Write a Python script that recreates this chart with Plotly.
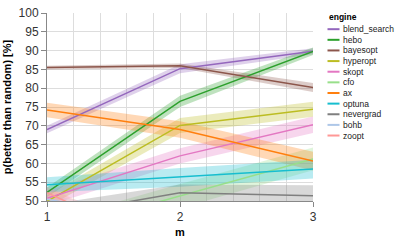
import plotly.graph_objects as go

# ---------------- data ----------------
m_values = [1, 2, 3]
engines = ["blend_search", "hebo", "bayesopt", "hyperopt", "skopt", "cfo",
           "ax", "optuna", "nevergrad", "bohb", "zoopt"]
colors = ["#9467bd", "#2ca02c", "#8c564b", "#bcbd22", "#e377c2", "#98df8a",
          "#ff7f0e", "#17becf", "#7f7f7f", "#aec7e8", "#ff9896"]

# mean p(better than random) [%] at m = 1, 2, 3
blend_search = [69.0, 85.2, 89.8]
hebo = [52.3, 76.5, 89.8]
bayesopt = [85.5, 86.0, 80.2]
hyperopt = [49.9, 70.1, 74.4]
skopt = [50.7, 62.0, 70.3]
cfo = [41.5, 51.3, 61.2]
ax = [74.2, 69.0, 60.6]
optuna = [54.3, 56.3, 58.5]
nevergrad = [46.0, 52.2, 51.4]
bohb = [50.5, 44.0, 43.0]
zoopt = [52.2, 36.0, 35.0]

# half-width of confidence band
blend_search_ci = [1.0, 1.2, 0.8]
hebo_ci = [1.3, 1.5, 1.0]
bayesopt_ci = [0.5, 0.6, 1.2]
hyperopt_ci = [1.6, 2.0, 2.0]
skopt_ci = [2.0, 2.0, 2.2]
cfo_ci = [3.0, 3.2, 3.0]
ax_ci = [1.9, 2.2, 2.5]
optuna_ci = [2.0, 2.5, 2.5]
nevergrad_ci = [3.0, 2.2, 2.8]
bohb_ci = [1.0, 2.0, 2.0]
zoopt_ci = [1.5, 2.0, 2.0]

means = [blend_search, hebo, bayesopt, hyperopt, skopt, cfo, ax, optuna,
         nevergrad, bohb, zoopt]
cis = [blend_search_ci, hebo_ci, bayesopt_ci, hyperopt_ci, skopt_ci, cfo_ci,
       ax_ci, optuna_ci, nevergrad_ci, bohb_ci, zoopt_ci]


def rgba(hex_color, a):
    h = hex_color.lstrip("#")
    r, g, b = int(h[0:2], 16), int(h[2:4], 16), int(h[4:6], 16)
    return f"rgba({r},{g},{b},{a})"


fig = go.Figure()

# bands
for name, col, mu, ci in zip(engines, colors, means, cis):
    upper = [v + c for v, c in zip(mu, ci)]
    lower = [v - c for v, c in zip(mu, ci)]
    fig.add_trace(go.Scatter(
        x=m_values + m_values[::-1],
        y=upper + lower[::-1],
        fill="toself", fillcolor=rgba(col, 0.3),
        line=dict(width=0), mode="lines", hoverinfo="skip",
        showlegend=False, name=name))

# lines
for name, col, mu in zip(engines, colors, means):
    fig.add_trace(go.Scatter(
        x=m_values, y=mu, mode="lines", name=name,
        line=dict(color=col, width=1.5), showlegend=False))

# ---------------- layout ----------------
W, H = 395, 242
L, R, T, B = 47, 82, 6, 35
pw, ph = W - L - R, H - T - B


def px_x(p):
    return (p - L) / pw


def px_y(p):
    return (H - B - p) / ph


font_family = "Liberation Sans, Arial, sans-serif"

# manual compact legend (title + entries)
annotations = [dict(
    x=px_x(327), y=px_y(10), xref="paper", yref="paper",
    text="engine", showarrow=False, xanchor="left", yanchor="middle",
    font=dict(family=font_family, size=8.5, color="#000", weight="bold"))]
shapes = []
for i, (name, col) in enumerate(zip(engines, colors)):
    yy = 23.3 + i * 11.37
    shapes.append(dict(type="line", xref="paper", yref="paper",
                       x0=px_x(327.5), x1=px_x(339.5),
                       y0=px_y(yy), y1=px_y(yy),
                       line=dict(color=col, width=2)))
    annotations.append(dict(
        x=px_x(340.5), y=px_y(yy), xref="paper", yref="paper",
        text=name, showarrow=False, xanchor="left", yanchor="middle",
        font=dict(family=font_family, size=8.5, color="#222")))

fig.update_layout(
    width=W, height=H,
    margin=dict(l=L, r=R, t=T, b=B, pad=0),
    paper_bgcolor="white", plot_bgcolor="white",
    showlegend=False,
    font=dict(family=font_family, color="#333"),
    annotations=annotations, shapes=shapes,
    xaxis=dict(
        range=[1, 3], dtick=1, tick0=1,
        showgrid=True, gridcolor="#ddd", gridwidth=1,
        minor=dict(dtick=0.2, showgrid=True, gridcolor="#ddd", gridwidth=1),
        showline=True, linecolor="#888", linewidth=1,
        ticks="outside", ticklen=5, tickcolor="#888",
        tickfont=dict(size=12, color="#333"),
        ticklabeloverflow="allow",
        zeroline=False,
        title=dict(text="m", standoff=4,
                   font=dict(size=11, color="#000", weight="bold")),
    ),
    yaxis=dict(
        range=[50, 100], dtick=5,
        showgrid=True, gridcolor="#ddd", gridwidth=1,
        showline=True, linecolor="#888", linewidth=1,
        ticks="outside", ticklen=5, tickcolor="#888",
        tickfont=dict(size=12, color="#333"),
        ticklabeloverflow="allow",
        zeroline=False,
        title=dict(text="p(better than random) [%]", standoff=4,
                   font=dict(size=11, color="#000", weight="bold")),
    ),
)

fig.write_html(
    "out.html",
    config={"displayModeBar": False},
    post_script="document.body.style.margin='0';document.body.style.overflow='hidden';",
)
